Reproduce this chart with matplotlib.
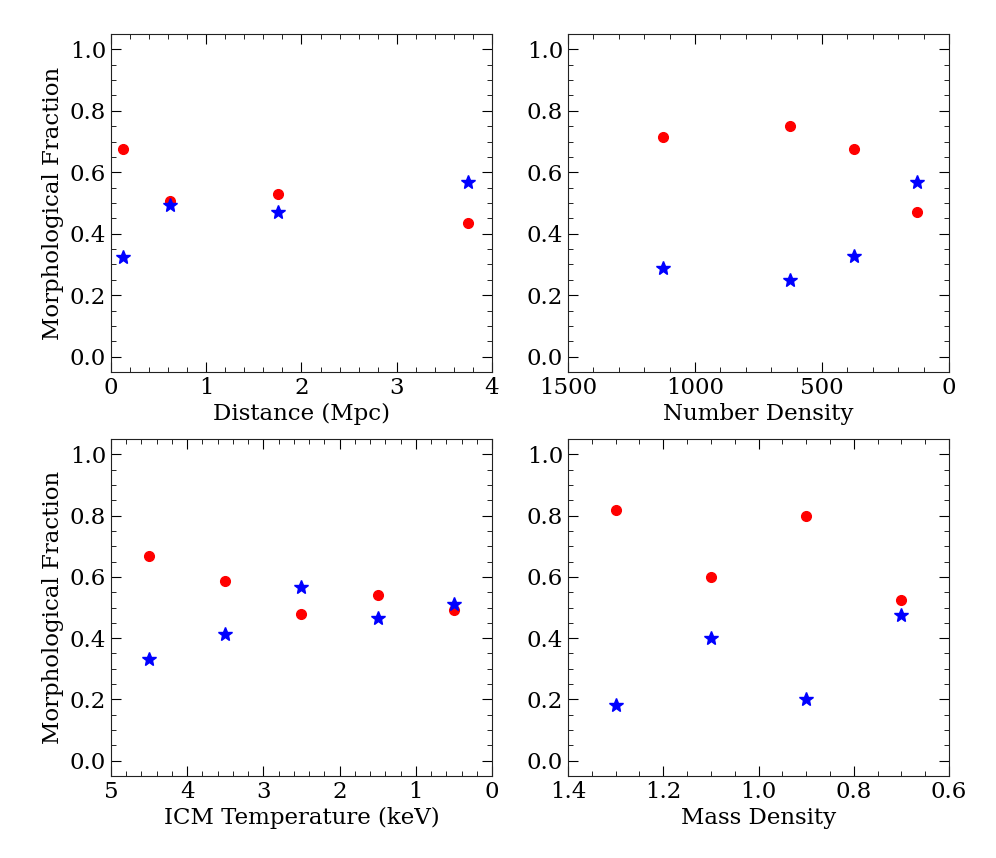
import matplotlib
matplotlib.use("Agg")
import matplotlib.pyplot as plt
from matplotlib.ticker import MultipleLocator

# Panel data: bin centres and the two morphological fractions
dist_x = [0.125, 0.625, 1.75, 3.75]
dist_red = [0.675, 0.505, 0.53, 0.435]
dist_blue = [0.325, 0.495, 0.472, 0.567]

numden_x = [1125, 625, 375, 125]
numden_red = [0.715, 0.75, 0.675, 0.47]
numden_blue = [0.287, 0.25, 0.327, 0.567]

temp_x = [4.5, 3.5, 2.5, 1.5, 0.5]
temp_red = [0.667, 0.588, 0.48, 0.54, 0.493]
temp_blue = [0.333, 0.413, 0.567, 0.465, 0.511]

mass_x = [1.3, 1.1, 0.9, 0.7]
mass_red = [0.818, 0.6, 0.8, 0.525]
mass_blue = [0.182, 0.4, 0.2, 0.475]

plt.rcParams.update({
    "font.family": "DejaVu Serif",
    "font.size": 16.5,
    "xtick.direction": "in",
    "ytick.direction": "in",
    "xtick.top": True,
    "ytick.right": True,
    "xtick.major.size": 7,
    "ytick.major.size": 7,
    "xtick.minor.size": 3.5,
    "ytick.minor.size": 3.5,
    "xtick.minor.visible": True,
    "ytick.minor.visible": True,
    "axes.edgecolor": "#222222",
})

fig = plt.figure(figsize=(9.96, 8.58), dpi=100)

panels = [
    ([0.1114, 0.5664, 0.3826, 0.394], dist_x, dist_red, dist_blue,
     (0, 4), 1, 0.2, "Distance (Mpc)", True),
    ([0.5703, 0.5664, 0.3826, 0.394], numden_x, numden_red, numden_blue,
     (1500, 0), 500, 100, "Number Density", False),
    ([0.1114, 0.0956, 0.3826, 0.3927], temp_x, temp_red, temp_blue,
     (5, 0), 1, 0.2, "ICM Temperature (keV)", True),
    ([0.5703, 0.0956, 0.3826, 0.3927], mass_x, mass_red, mass_blue,
     (1.4, 0.6), 0.2, 0.05, "Mass Density", False),
]

for rect, x, red, blue, xlim, major, minor, xlabel, ylab in panels:
    ax = fig.add_axes(rect)
    ax.plot(x, red, "o", color="red", markersize=7, linestyle="none")
    ax.plot(x, blue, "*", color="blue", markersize=10, linestyle="none")
    ax.set_xlim(*xlim)
    ax.set_ylim(-0.05, 1.05)
    ax.xaxis.set_major_locator(MultipleLocator(major))
    ax.xaxis.set_minor_locator(MultipleLocator(minor))
    ax.yaxis.set_major_locator(MultipleLocator(0.2))
    ax.yaxis.set_minor_locator(MultipleLocator(0.05))
    ax.set_xlabel(xlabel, labelpad=3)
    if ylab:
        ax.set_ylabel("Morphological Fraction")

fig.savefig("out.png", dpi=100)
